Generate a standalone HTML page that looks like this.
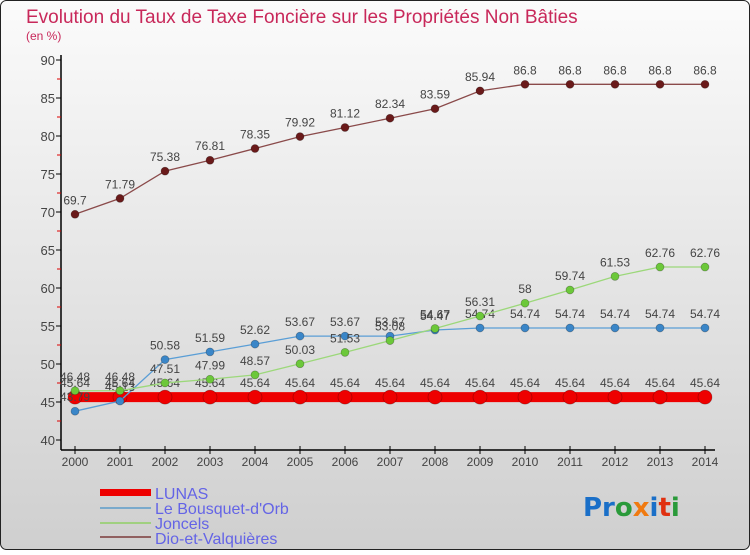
<!DOCTYPE html>
<html><head><meta charset="utf-8"><style>
body{margin:0;width:750px;height:550px;overflow:hidden;font-family:"Liberation Sans",sans-serif}
</style></head><body>
<svg id="chart" width="750" height="550" xmlns="http://www.w3.org/2000/svg">
<defs><linearGradient id="bg" x1="0" y1="0" x2="0" y2="1"><stop offset="0" stop-color="#fbfbfb"/><stop offset="1" stop-color="#cfcfcf"/></linearGradient></defs>
<rect x="0.5" y="0.5" width="749" height="549" rx="6" fill="url(#bg)" stroke="#222"/>
<text x="26" y="23" font-size="19" fill="#c8285a">Evolution du Taux de Taxe Foncière sur les Propriétés Non Bâties</text>
<text x="26" y="40" font-size="12" fill="#c8285a">(en %)</text>
<g id="axes"></g><g id="series"></g>
<g>
<rect x="100" y="489" width="51" height="7" fill="#e00"/>
<text x="155" y="499" font-size="16" fill="#6464e6">LUNAS</text>
<rect x="100" y="507" width="51" height="2" fill="#7aaacc"/>
<text x="155" y="514" font-size="16" fill="#6464e6">Le Bousquet-d'Orb</text>
<rect x="100" y="522" width="51" height="2" fill="#a0d080"/>
<text x="155" y="529" font-size="16" fill="#6464e6">Joncels</text>
<rect x="100" y="536" width="51" height="2" fill="#906060"/>
<text x="155" y="544" font-size="16" fill="#6464e6">Dio-et-Valquières</text>
</g>
<text x="583" y="516" font-size="26" font-weight="bold" font-family="DejaVu Sans,sans-serif"><tspan fill="#1a6fc8">Pr</tspan><tspan fill="#2a9a3a">o</tspan><tspan fill="#f07a10">x</tspan><tspan fill="#1a6fc8">i</tspan><tspan fill="#e03010">t</tspan><tspan fill="#2a9a3a">i</tspan></text>
</svg>
<script>
const years=[2000,2001,2002,2003,2004,2005,2006,2007,2008,2009,2010,2011,2012,2013,2014];
const lunas=[45.64,45.64,45.64,45.64,45.64,45.64,45.64,45.64,45.64,45.64,45.64,45.64,45.64,45.64,45.64];
const bousquet=[43.79,45.13,50.58,51.59,52.62,53.67,53.67,53.67,54.47,54.74,54.74,54.74,54.74,54.74,54.74];
const joncels=[46.48,46.48,47.51,47.99,48.57,50.03,51.53,53.08,54.67,56.31,58,59.74,61.53,62.76,62.76];
const dio=[69.7,71.79,75.38,76.81,78.35,79.92,81.12,82.34,83.59,85.94,86.8,86.8,86.8,86.8,86.8];
const yTicks=[40,45,50,55,60,65,70,75,80,85,90];
const NS="http://www.w3.org/2000/svg";
const X=i=>75+i*45, Y=v=>440-(v-40)*7.6;
function mk(p,t,a){const e=document.createElementNS(NS,t);for(const k in a)e.setAttribute(k,a[k]);p.appendChild(e);return e;}
const ax=document.getElementById('axes');
let l=mk(ax,'line',{x1:61,y1:55,x2:61,y2:450,stroke:'#000','stroke-width':1.5});


l=mk(ax,'line',{x1:61,y1:450,x2:715,y2:450,stroke:'#000','stroke-width':1.5});


yTicks.forEach((v,i)=>{
 mk(ax,'line',{x1:56,y1:Y(v),x2:61,y2:Y(v),stroke:'#000'});
 if(i<yTicks.length-1) mk(ax,'line',{x1:57,y1:Y(v+2.5),x2:61,y2:Y(v+2.5),stroke:'#d00'});
 const t=mk(ax,'text',{x:55,y:Y(v)+5,'font-size':13,fill:'#444','text-anchor':'end'});
 t.textContent=v;
 
 
});
years.forEach((y,i)=>{
 mk(ax,'line',{x1:X(i),y1:446,x2:X(i),y2:454,stroke:'#000'});
 const t=mk(ax,'text',{x:X(i),y:466,'font-size':12,fill:'#444','text-anchor':'middle'});
 t.textContent=y;
 
 
});
const sg=document.getElementById('series');
function series(name,data,color,dot,w,r){
 const g=mk(sg,'g',{});
 
 
 const p=mk(g,'polyline',{points:data.map((v,i)=>X(i)+','+Y(v)).join(' '),fill:'none',stroke:color,'stroke-width':w});
 
 
 data.forEach((v,i)=>{
  const c=mk(g,'circle',{cx:X(i),cy:Y(v),r:r,fill:dot,stroke:'rgba(0,0,0,0.3)','stroke-width':0.7});
  
  
  const t=mk(g,'text',{x:X(i),y:Y(v)-10,'font-size':12,fill:'#444','text-anchor':'middle'});
  t.textContent=v;
  
  
 });
}
series('lunas',lunas,'#ee0000','#ee0000',10,7);
series('bousquet',bousquet,'#5a9ed6','#3a86c8',1.3,4);
series('joncels',joncels,'#9cd87a','#6cc83a',1.3,4);
series('dio',dio,'#8a4a4a','#6a1a1a',1.3,4);
</script>
</body></html>
